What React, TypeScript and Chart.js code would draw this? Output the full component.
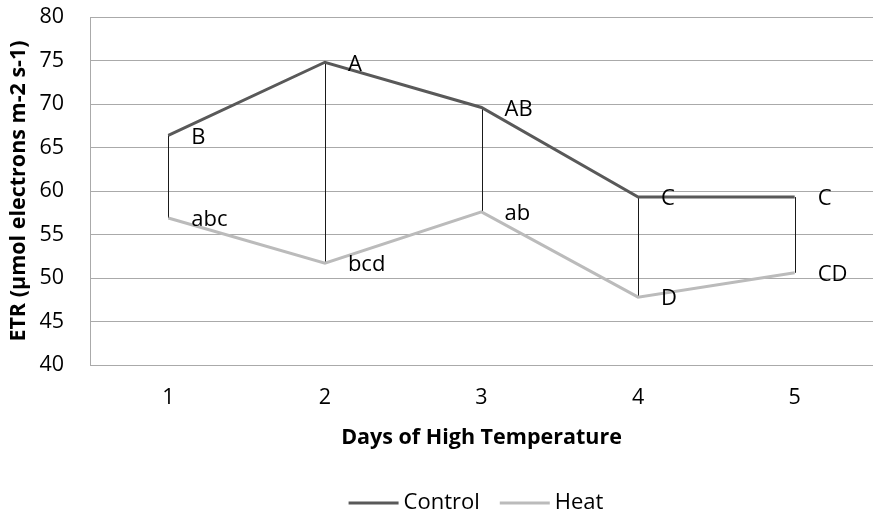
import React, { useEffect, useRef } from "react";
import { Chart, registerables } from "chart.js";

Chart.register(...registerables);

const categories = ["1", "2", "3", "4", "5"];
const controlValues = [66.4, 74.8, 69.6, 59.3, 59.3];
const heatValues = [56.9, 51.7, 57.6, 47.8, 50.6];
const controlLetters = ["B", "A", "AB", "C", "C"];
const heatLetters = ["abc", "bcd", "ab", "D", "CD"];
const seriesNames = ["Control", "Heat"];
const yMin = 40;
const yMax = 80;
const yStep = 5;
const xTitle = "Days of High Temperature";
const yTitle = "ETR (µmol electrons m-2 s-1)";

const FONT = "'Open Sans'";
const TICK_SIZE = 21.5;
const TEXT_SIZE = 22;
const TITLE_SIZE = 21.5;
const CONTROL_COLOR = "#595959";
const HEAT_COLOR = "#BBBBBB";
const GRID_COLOR = "#AAAAAA";

const letters = [controlLetters, heatLetters];

const dropLinesPlugin = {
  id: "dropLines",
  beforeDatasetsDraw(chart: any) {
    const a = chart.getDatasetMeta(0).data;
    const b = chart.getDatasetMeta(1).data;
    const ctx = chart.ctx;
    ctx.save();
    ctx.strokeStyle = "#1a1a1a";
    ctx.lineWidth = 1;
    for (let i = 0; i < a.length; i++) {
      const x = Math.round(a[i].x) + 0.5;
      ctx.beginPath();
      ctx.moveTo(x, a[i].y);
      ctx.lineTo(x, b[i].y);
      ctx.stroke();
    }
    ctx.restore();
  },
};

const letterPlugin = {
  id: "pointLetters",
  afterDatasetsDraw(chart: any) {
    const ctx = chart.ctx;
    ctx.save();
    ctx.font = `${TEXT_SIZE}px ${FONT}`;
    ctx.fillStyle = "#000";
    ctx.textAlign = "left";
    ctx.textBaseline = "middle";
    for (let d = 0; d < 2; d++) {
      const pts = chart.getDatasetMeta(d).data;
      pts.forEach((p: any, i: number) => {
        ctx.fillText(letters[d][i], p.x + 23, p.y + 2);
      });
    }
    ctx.restore();
  },
};

const legendPlugin = {
  id: "customLegend",
  afterDraw(chart: any) {
    const ctx = chart.ctx;
    ctx.save();
    ctx.font = `${TEXT_SIZE}px ${FONT}`;
    ctx.textBaseline = "middle";
    ctx.textAlign = "left";
    const lineLen = 50;
    const gap = 5;
    const itemGap = 20;
    const ds = chart.data.datasets;
    const widths = ds.map((d: any) => ctx.measureText(d.label).width);
    let total = 0;
    widths.forEach((w: number, i: number) => {
      total += lineLen + gap + w + (i < widths.length - 1 ? itemGap : 0);
    });
    const cx = 476;
    const y = 503;
    let x = cx - total / 2;
    ds.forEach((d: any, i: number) => {
      ctx.strokeStyle = d.borderColor;
      ctx.lineWidth = 3;
      ctx.beginPath();
      ctx.moveTo(x, y);
      ctx.lineTo(x + lineLen, y);
      ctx.stroke();
      x += lineLen + gap;
      ctx.fillStyle = "#000";
      ctx.fillText(d.label, x, y);
      x += widths[i] + itemGap;
    });
    ctx.restore();
  },
};

export default function App() {
  const ref = useRef<HTMLCanvasElement | null>(null);
  useEffect(() => {
    if (!ref.current) return;
    const chart = new Chart(ref.current, {
      type: "line",
      data: {
        labels: categories,
        datasets: [
          {
            label: seriesNames[0],
            data: controlValues,
            borderColor: CONTROL_COLOR,
            backgroundColor: CONTROL_COLOR,
            borderWidth: 3,
            pointRadius: 0,
            tension: 0,
          },
          {
            label: seriesNames[1],
            data: heatValues,
            borderColor: HEAT_COLOR,
            backgroundColor: HEAT_COLOR,
            borderWidth: 3,
            pointRadius: 0,
            tension: 0,
          },
        ],
      },
      options: {
        responsive: false,
        animation: false,
        layout: { padding: { top: 17, right: 0, bottom: 55, left: 0 } },
        plugins: {
          legend: { display: false },
          tooltip: { enabled: false },
        },
        scales: {
          x: {
            offset: true,
            grid: { display: false, drawTicks: false },
            border: { display: true, color: GRID_COLOR, width: 1 },
            ticks: {
              padding: 20,
              color: "#000",
              font: { family: FONT, size: TICK_SIZE },
            },
            title: {
              display: true,
              text: xTitle,
              color: "#000",
              font: { family: FONT, size: TITLE_SIZE, weight: "bold" },
              padding: { top: 0, bottom: 9 },
            },
            afterFit(scale: any) {
              scale.height = 95;
            },
          },
          y: {
            min: yMin,
            max: yMax,
            ticks: {
              stepSize: yStep,
              padding: 26,
              color: "#000",
              font: { family: FONT, size: TICK_SIZE },
            },
            grid: { color: GRID_COLOR, lineWidth: 1, drawTicks: false },
            border: { display: true, color: GRID_COLOR, width: 1 },
            title: {
              display: true,
              text: yTitle,
              color: "#000",
              font: { family: FONT, size: TITLE_SIZE, weight: "bold" },
              padding: { top: 6, bottom: 0 },
            },
            afterFit(scale: any) {
              scale.width = 90;
              scale.paddingTop = 0;
              scale.paddingBottom = 0;
            },
          },
        },
      },
      plugins: [dropLinesPlugin, letterPlugin, legendPlugin],
    });
    return () => chart.destroy();
  }, []);
  return (
    <div style={{ position: "absolute", left: 0, top: 0, width: 873, height: 515, background: "#fff" }}>
      <canvas ref={ref} width={873} height={515} style={{ display: "block" }} />
    </div>
  );
}
